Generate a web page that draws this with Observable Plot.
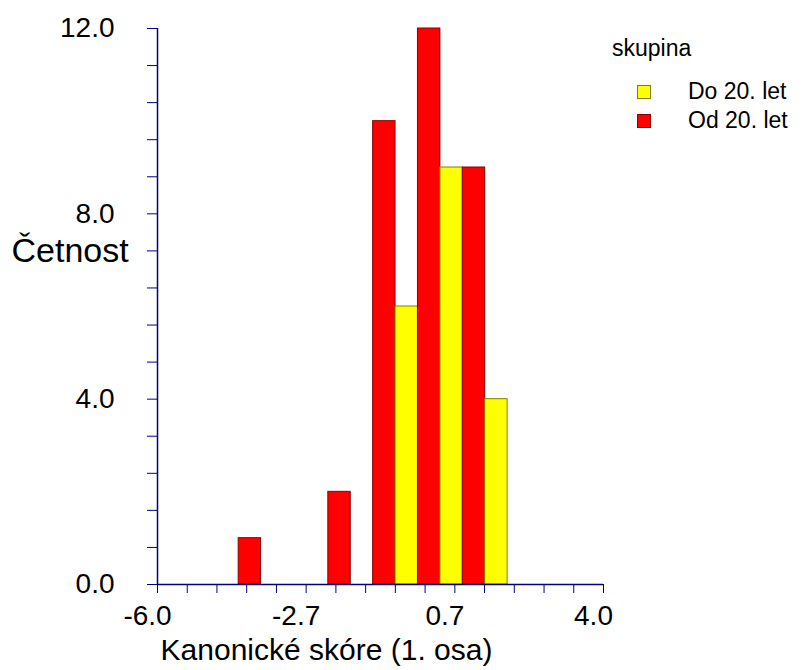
<!DOCTYPE html>
<html>
<head>
<meta charset="utf-8">
<script src="https://cdn.jsdelivr.net/npm/d3@7"></script>
<script src="https://cdn.jsdelivr.net/npm/@observablehq/plot@0.6"></script>
<style>
  body { margin: 0; background: #fff; }
  #wrap { position: relative; width: 807px; height: 670px; font-family: "Liberation Sans", Arial, sans-serif; }
  #legend { position: absolute; left: 612px; top: 35px; font-size: 23px; color: #000; }
  #legend .title { line-height: 26px; margin-bottom: 16px; }
  #legend .item { display: flex; align-items: center; height: 29px; }
  #legend .sw { width: 14px; height: 14px; margin-left: 25px; margin-right: 37px; box-sizing: border-box; }
</style>
</head>
<body>
<div id="wrap"></div>
<script>
// ---- data ----
const binEdges = [-4.18, -3.175, -2.17, -1.165, -0.16, 0.845, 1.85];
const groups = ["Do 20. let", "Od 20. let"];
const countsDo20 = [0, 0, 0, 6, 9, 4];
const countsOd20 = [1, 0, 2, 10, 12, 9];
const groupFill = ["#ffff00", "#ff0000"];
const groupStroke = ["#808000", "#8b0000"];
const xTicks = [-6, -5.333, -4.667, -4, -3.333, -2.667, -2, -1.333, -0.667, 0, 0.667, 1.333, 2, 2.667, 3.333, 4];
const xTickLabels = ["-6.0", "", "", "", "", "-2.7", "", "", "", "", "0.7", "", "", "", "", "4.0"];
const yTicks = [0, 0.8, 1.6, 2.4, 3.2, 4, 4.8, 5.6, 6.4, 7.2, 8, 8.8, 9.6, 10.4, 11.2, 12];
const yTickLabels = ["0.0", "", "", "", "", "4.0", "", "", "", "", "8.0", "", "", "", "", "12.0"];
const xTitle = "Kanonické skóre (1. osa)";
const yTitle = "Četnost";
const legendTitle = "skupina";

// build bar table: Od 20. let on left half of bin, Do 20. let on right half
const bars = [];
for (let i = 0; i < binEdges.length - 1; i++) {
  const a = binEdges[i], b = binEdges[i + 1], m = (a + b) / 2;
  if (countsOd20[i] > 0) bars.push({x1: a, x2: m, y: countsOd20[i], g: groups[1]});
  if (countsDo20[i] > 0) bars.push({x1: m, x2: b, y: countsDo20[i], g: groups[0]});
}

const navy = "#000080";
const chart = Plot.plot({
  width: 807,
  height: 670,
  marginLeft: 157,
  marginRight: 204,
  marginTop: 28,
  marginBottom: 86,
  style: {fontFamily: "'Liberation Sans', Arial, sans-serif", overflow: "visible", background: "#fff"},
  x: {domain: [-6, 4]},
  y: {domain: [0, 12]},
  color: {domain: groups, range: groupFill},
  marks: [
    Plot.rectY(bars, {
      x1: "x1", x2: "x2", y1: 0, y2: "y",
      fill: "g",
      stroke: d => groupStroke[groups.indexOf(d.g)],
      strokeWidth: 1
    }),
    // x tick marks
    Plot.axisX({
      ticks: xTicks, tickSize: 9, tickFormat: () => "",
      stroke: navy, label: null
    }),
    // x tick labels (shifted slightly left as in the original)
    Plot.axisX({
      ticks: xTicks, tickSize: 0, tickPadding: 21, dx: -10,
      tickFormat: (d, i) => xTickLabels[i],
      fill: "#000", fontSize: 28, label: null
    }),
    Plot.axisY({
      ticks: yTicks, tickSize: 10, tickPadding: 33,
      tickFormat: (d, i) => yTickLabels[i],
      stroke: navy, fill: "#000", fontSize: 28, label: null
    }),
    Plot.ruleX([-6], {y1: 0, y2: 12, stroke: navy, strokeWidth: 1.5}),
    Plot.ruleY([0], {x1: -6, x2: 4, stroke: navy, strokeWidth: 1.5}),
    Plot.text([xTitle], {frameAnchor: "bottom", dx: -54, dy: 75, fontSize: 30, fill: "#000", lineAnchor: "bottom"}),
    Plot.text([yTitle], {frameAnchor: "left", textAnchor: "start", dx: -146, dy: -55, fontSize: 34, fill: "#000"})
  ]
});
document.getElementById("wrap").appendChild(chart);

// legend
const lg = document.createElement("div");
lg.id = "legend";
const t = document.createElement("div");
t.className = "title";
t.textContent = legendTitle;
lg.appendChild(t);
groups.forEach((g, i) => {
  const it = document.createElement("div");
  it.className = "item";
  const sw = document.createElement("span");
  sw.className = "sw";
  sw.style.background = groupFill[i];
  sw.style.border = "1px solid " + groupStroke[i];
  const lab = document.createElement("span");
  lab.textContent = g;
  it.appendChild(sw);
  it.appendChild(lab);
  lg.appendChild(it);
});
document.getElementById("wrap").appendChild(lg);
</script>
</body>
</html>
